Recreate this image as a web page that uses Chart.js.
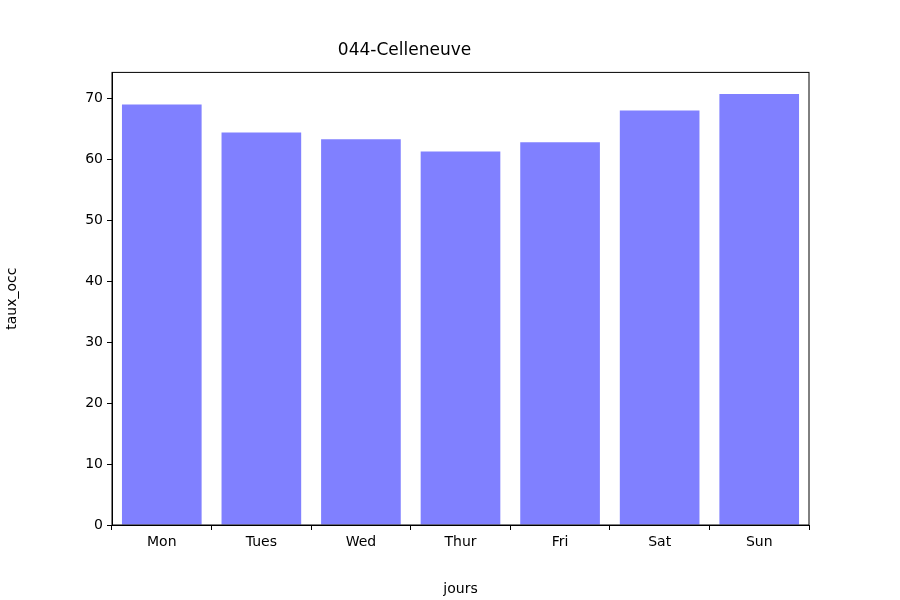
<!DOCTYPE html>
<html>
<head>
<meta charset="utf-8">
<script src="https://cdn.jsdelivr.net/npm/chart.js@4/dist/chart.umd.min.js"></script>
<style>
  html, body { margin: 0; padding: 0; background: #fff; }
  #wrap { width: 900px; height: 600px; }
</style>
</head>
<body>
<div id="wrap"><canvas id="chart" width="900" height="600"></canvas></div>
<script>
// values
const jours = ['Mon', 'Tues', 'Wed', 'Thur', 'Fri', 'Sat', 'Sun'];
const tauxOcc = [69.0, 64.4, 63.3, 61.3, 62.8, 68.0, 70.7];
const yTicks = [0, 10, 20, 30, 40, 50, 60, 70];

// full box round the plot area, like matplotlib spines
const frame = {
    id: 'frame',
    afterDraw(chart) {
        const a = chart.chartArea;
        const c = chart.ctx;
        c.save();
        c.strokeStyle = '#000';
        c.lineWidth = 1;
        c.strokeRect(a.left, a.top, a.right - a.left, a.bottom - a.top);
        c.restore();
    }
};

Chart.defaults.font.family = 'DejaVu Sans';
Chart.defaults.color = '#000';

new Chart(document.getElementById('chart').getContext('2d'), {
    type: 'bar',
    data: {
        labels: jours,
        datasets: [{
            data: tauxOcc,
            backgroundColor: '#8080ff',
            borderWidth: 0,
            barPercentage: 0.8,
            categoryPercentage: 1.0
        }]
    },
    options: {
        responsive: false,
        animation: false,
        layout: { padding: { left: 0, right: 91, top: 0, bottom: 0 } },
        plugins: {
            legend: { display: false },
            tooltip: { enabled: false },
            title: {
                display: true,
                text: '044-Celleneuve',
                font: { size: 17, weight: 'normal' },
                padding: { top: 40, bottom: 12 }
            }
        },
        scales: {
            x: {
                offset: true,
                grid: { drawOnChartArea: false, color: '#000', tickLength: 5 },
                border: { color: '#000' },
                ticks: { font: { size: 14 }, padding: 4 },
                title: { display: true, text: 'jours', font: { size: 14 }, padding: 2 },
                afterFit(s) { s.height = 75; }
            },
            y: {
                min: 0,
                max: 74.26,
                afterBuildTicks(s) { s.ticks = yTicks.map(v => ({ value: v })); },
                grid: { drawOnChartArea: false, color: '#000', tickLength: 5 },
                border: { color: '#000' },
                ticks: { font: { size: 14 }, padding: 4 },
                title: { display: true, text: 'taux_occ', font: { size: 14 }, padding: 4 },
                afterFit(s) { s.width = 112; }
            }
        }
    },
    plugins: [frame]
});
</script>
</body>
</html>
